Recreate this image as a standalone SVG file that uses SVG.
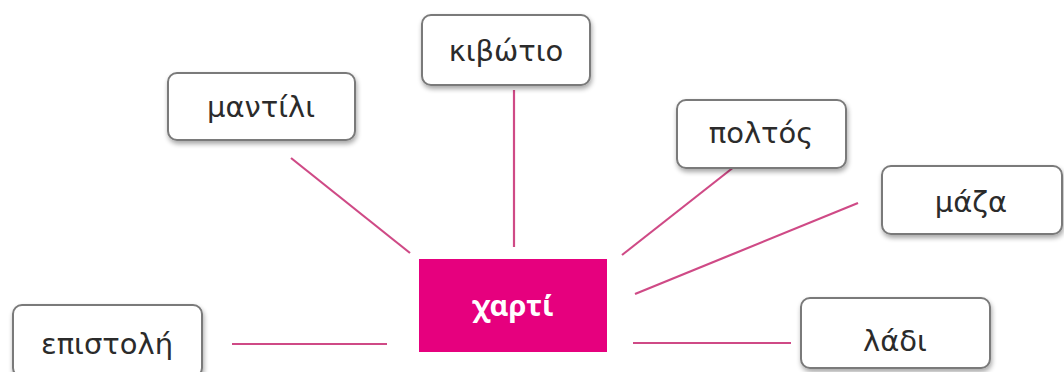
<svg xmlns="http://www.w3.org/2000/svg" width="1064" height="372" viewBox="0 0 1064 372">
<defs>
<filter id="sh" x="-10%" y="-20%" width="130%" height="150%">
<feGaussianBlur in="SourceAlpha" stdDeviation="2.5"/>
<feOffset dx="1" dy="3"/>
<feComponentTransfer><feFuncA type="linear" slope="0.35"/></feComponentTransfer>
<feMerge><feMergeNode/><feMergeNode in="SourceGraphic"/></feMerge>
</filter>
</defs>
<style>
.box{fill:#fff;stroke:#7a7a7a;stroke-width:2;filter:url(#sh)}
.t{font-family:"DejaVu Sans","Noto Sans",sans-serif;font-size:29px;fill:#2b2b2b;text-anchor:middle}
.c{stroke:#cf4a86;stroke-width:2.2;fill:none}
</style>
<rect width="1064" height="372" fill="#fff"/>
<g id="connectors">
<line class="c" x1="291" y1="158" x2="410" y2="253"/>
<line class="c" x1="514" y1="90" x2="514" y2="247"/>
<line class="c" x1="739" y1="163" x2="622" y2="255"/>
<line class="c" x1="858" y1="203" x2="635" y2="294"/>
<line class="c" x1="232" y1="344" x2="387" y2="344"/>
<line class="c" x1="633" y1="343" x2="791" y2="343"/>
</g>
<g id="mantili"><rect class="box" x="168" y="73" width="187" height="67" rx="9"/><text class="t" x="261" y="117">μαντίλι</text></g>
<g id="kivotio"><rect class="box" x="422" y="15" width="168" height="70" rx="9"/><text class="t" x="506" y="61">κιβώτιο</text></g>
<g id="poltos"><rect class="box" x="677" y="100" width="169" height="68" rx="9"/><text class="t" x="761" y="143">πολτός</text></g>
<g id="maza"><rect class="box" x="882" y="166" width="180" height="68" rx="9"/><text class="t" x="971" y="212">μάζα</text></g>
<g id="ladi"><rect class="box" x="801" y="298" width="189" height="70" rx="9"/><text class="t" x="895" y="351">λάδι</text></g>
<g id="epistoli"><rect class="box" x="13" y="305" width="189" height="72" rx="9"/><text class="t" x="107" y="354">επιστολή</text></g>
<g id="xarti"><rect x="419" y="259" width="188" height="93" fill="#e6007e"/><text x="513" y="316" font-family="'Noto Sans','DejaVu Sans',sans-serif" font-size="29" font-weight="bold" fill="#fff" text-anchor="middle">χαρτί</text></g>
</svg>
